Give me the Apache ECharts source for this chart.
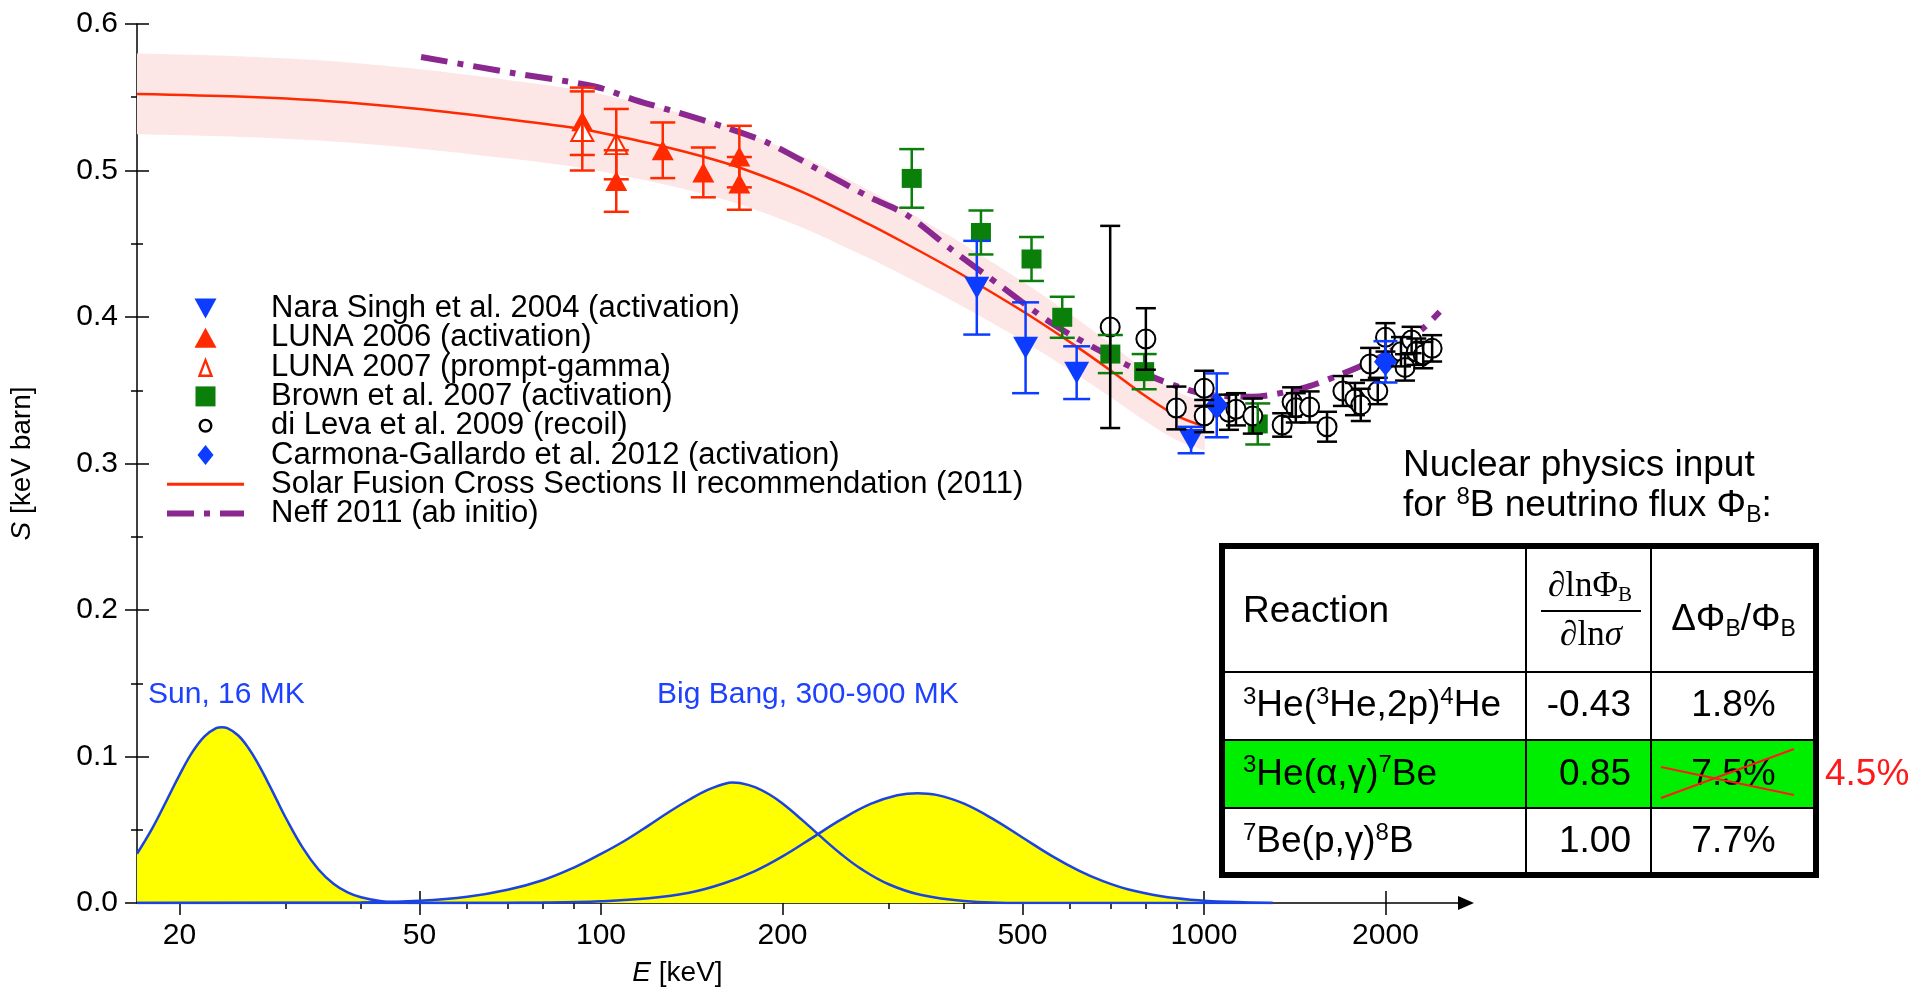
<!DOCTYPE html>
<html>
<head>
<meta charset="utf-8">
<title>3He(α,γ)7Be astrophysical S-factor</title>
<script src="https://cdn.jsdelivr.net/npm/echarts@6/dist/echarts.min.js"></script>
<style>
  html, body { margin: 0; padding: 0; background: #ffffff; }
  #chart { width: 1915px; height: 992px; }
</style>
</head>
<body>
<div id="chart"></div>
<script>
const SANS = '"Liberation Sans", Arial, Helvetica, sans-serif';
const SERIF = '"Liberation Serif", "Times New Roman", serif';

// ---- axes ----
const E_MIN = 17;
const E_MAX = 2720;
const xMajorTicks = [20, 50, 100, 200, 500, 1000, 2000];
const xMinorTicks = [30, 40, 60, 70, 80, 90, 300, 400, 600, 700, 800, 900];
const S_MIN = 0, S_MAX = 0.6, S_STEP = 0.1;

// ---- measurements: energy (keV), S (keV barn), 1-sigma error ----
// Nara Singh et al. 2004 (activation)
const naraE   = [420, 506, 615, 952];
const naraS   = [0.420, 0.379, 0.362, 0.316];
const naraErr = [0.032, 0.031, 0.018, 0.009];

// LUNA 2006 (activation)
const luna06E   = [93.1, 106, 126.6, 147.8, 169.6, 169.6];
const luna06S   = [0.5336, 0.4928, 0.5138, 0.4987, 0.5095, 0.4912];
const luna06Err = [0.023, 0.021, 0.019, 0.017, 0.021, 0.018];

// LUNA 2007 (prompt-gamma)
const luna07E   = [93.1, 106];
const luna07S   = [0.527, 0.518];
const luna07Err = [0.027, 0.024];

// Brown et al. 2007 (activation)
const brownE   = [327.6, 426.7, 517.6, 582, 699.4, 795.8, 1228];
const brownS   = [0.4946, 0.4577, 0.4396, 0.3998, 0.3747, 0.3627, 0.327];
const brownErr = [0.020, 0.015, 0.015, 0.014, 0.013, 0.012, 0.014];

// di Leva et al. 2009 (recoil)
const dilevaE   = [699, 801, 900, 1001, 1001, 1100, 1130, 1205, 1348, 1400, 1420, 1497, 1600, 1700, 1780, 1820, 1886, 1942, 2000, 2122, 2155, 2210, 2250, 2310, 2390];
const dilevaS   = [0.3932, 0.385, 0.3379, 0.3513, 0.3324, 0.335, 0.337, 0.3324, 0.3263, 0.342, 0.338, 0.3386, 0.3251, 0.3495, 0.344, 0.340, 0.3679, 0.3495, 0.3861, 0.3763, 0.3656, 0.3843, 0.3763, 0.374, 0.3786];
const dilevaErr = [0.069, 0.021, 0.0146, 0.012, 0.011, 0.012, 0.011, 0.012, 0.008, 0.010, 0.010, 0.0106, 0.0102, 0.0102, 0.011, 0.011, 0.011, 0.009, 0.0097, 0.010, 0.009, 0.009, 0.009, 0.009, 0.009];

// Carmona-Gallardo et al. 2012 (activation)
const carmonaE   = [1050, 2000];
const carmonaS   = [0.3397, 0.3694];
const carmonaErr = [0.0218, 0.0141];

// ---- curves ----
// Solar Fusion Cross Sections II recommendation, with its ±5 % band edges
const sfE      = [17, 25, 35, 50, 70, 93, 106, 127, 148, 170, 216, 278, 315, 381, 420, 506, 615, 699, 801, 900, 1003];
const sfS      = [0.5523, 0.5505, 0.5475, 0.5420, 0.5350, 0.5283, 0.5235, 0.5164, 0.5094, 0.5019, 0.4853, 0.4634, 0.4517, 0.4331, 0.4229, 0.4027, 0.3798, 0.3637, 0.3459, 0.3327, 0.3252];
const sfBandLo = [0.5247, 0.5230, 0.5201, 0.5149, 0.5083, 0.5019, 0.4973, 0.4906, 0.4839, 0.4768, 0.4610, 0.4402, 0.4291, 0.4114, 0.4018, 0.3826, 0.3608, 0.3455, 0.3286, 0.3161, 0.3089];
const sfBandHi = [0.5799, 0.5780, 0.5749, 0.5691, 0.5618, 0.5547, 0.5497, 0.5422, 0.5349, 0.5270, 0.5096, 0.4866, 0.4743, 0.4548, 0.4440, 0.4228, 0.3988, 0.3819, 0.3632, 0.3493, 0.3415];

// Neff 2011 (ab initio)
const neffE = [50.3, 71, 98, 114, 133, 161, 190, 230, 278, 322, 381, 462, 559, 676, 819, 991, 1199, 1452, 1690, 1987, 2291, 2460];
const neffS = [0.5775, 0.5667, 0.5572, 0.5481, 0.5400, 0.5294, 0.5185, 0.5003, 0.4821, 0.4695, 0.4462, 0.4207, 0.3957, 0.3763, 0.3593, 0.3479, 0.3456, 0.3513, 0.3610, 0.3740, 0.3911, 0.4036];

// Gamow windows (arbitrary scale): Sun and Big Bang
const sunE = [17, 18, 19, 20, 21, 22, 23, 23.5, 24, 25, 26, 27, 28, 29, 30, 32, 34, 36, 38, 40, 43, 46, 50, 80];
const sunY = [0.0336, 0.0506, 0.0693, 0.0875, 0.103, 0.1138, 0.1193, 0.120, 0.1194, 0.1145, 0.106, 0.095, 0.0827, 0.0702, 0.0582, 0.0378, 0.0229, 0.0132, 0.0073, 0.0039, 0.0014, 0.0005, 0, 0];
const bbLowE = [17, 40, 50, 60, 70, 80, 90, 100, 110, 120, 130, 140, 150, 160, 165, 170, 180, 190, 200, 215, 230, 250, 270, 300, 340, 400, 500, 1300];
const bbLowY = [0, 0.0003, 0.0015, 0.0042, 0.009, 0.0155, 0.024, 0.0335, 0.043, 0.053, 0.0625, 0.0705, 0.077, 0.0812, 0.0823, 0.0819, 0.0791, 0.0742, 0.0679, 0.0571, 0.0463, 0.0335, 0.0233, 0.0128, 0.0054, 0.0014, 0, 0];
const bbHighE = [17, 60, 80, 100, 120, 140, 160, 180, 200, 225, 250, 280, 310, 335, 360, 400, 450, 500, 560, 620, 680, 750, 850, 950, 1100, 1300];
const bbHighY = [0, 0, 0.0003, 0.0012, 0.0032, 0.0070, 0.0135, 0.0218, 0.0318, 0.045, 0.0569, 0.0676, 0.0735, 0.075, 0.0738, 0.0678, 0.0566, 0.0447, 0.032, 0.0221, 0.0149, 0.0092, 0.0046, 0.0023, 0.0008, 0];

// ---- inset table ----
const tableReactions = ['{s|3}He({s|3}He,2p){s|4}He', '{s|3}He(α,γ){s|7}Be', '{s|7}Be(p,γ){s|8}B'];
const tableSensitivity = ['-0.43', '0.85', '1.00'];
const tableFluxError = ['1.8%', '7.5%', '7.7%'];
const revisedFluxError = '4.5%';

// ---- colours ----
const RED = '#ff2a00';
const BLUE = '#0c3cff';
const GREEN = '#0a7f0a';
const PURPLE = '#8b2890';

const pairs = (xs, ys) => xs.map((x, i) => [x, ys[i]]);
const triples = (xs, ys, es) => xs.map((x, i) => [x, ys[i], es[i]]);

function scatterSeries(name, xs, ys, symbol, size, color, itemStyle) {
  return {
    name, type: 'scatter', data: pairs(xs, ys), symbol, symbolSize: size,
    itemStyle: Object.assign({ color, opacity: 1 }, itemStyle || {}),
    z: 4
  };
}

function errorBarSeries(name, xs, ys, es, color, capWidth) {
  return {
    name: name + ' – errors',
    type: 'custom',
    data: triples(xs, ys, es),
    encode: { x: 0, y: 1 },
    z: 5,
    renderItem(params, api) {
      const x = api.value(0), y = api.value(1), e = api.value(2);
      const hi = api.coord([x, y + e]);
      const lo = api.coord([x, y - e]);
      const h = capWidth / 2;
      const style = { stroke: color, lineWidth: 2.5 };
      return {
        type: 'group',
        children: [
          { type: 'line', shape: { x1: hi[0], y1: hi[1], x2: lo[0], y2: lo[1] }, style },
          { type: 'line', shape: { x1: hi[0] - h, y1: hi[1], x2: hi[0] + h, y2: hi[1] }, style },
          { type: 'line', shape: { x1: lo[0] - h, y1: lo[1], x2: lo[0] + h, y2: lo[1] }, style }
        ]
      };
    }
  };
}

function gamowSeries(name, xs, ys) {
  return {
    name, type: 'line', data: pairs(xs, ys), smooth: 0.4, symbol: 'none', z: 2,
    lineStyle: { color: '#1b43e0', width: 2.5 },
    areaStyle: { color: '#ffff00', opacity: 1 }
  };
}

const N_NARA = 'Nara Singh et al. 2004 (activation)';
const N_L06 = 'LUNA 2006 (activation)';
const N_L07 = 'LUNA 2007 (prompt-gamma)';
const N_BROWN = 'Brown et al. 2007 (activation)';
const N_DILEVA = 'di Leva et al. 2009 (recoil)';
const N_CARMONA = 'Carmona-Gallardo et al. 2012 (activation)';
const N_SF = 'Solar Fusion Cross Sections II recommendation (2011)';
const N_NEFF = 'Neff 2011 (ab initio)';

const tickLine = { color: '#000', width: 1.5 };
const baseX = {
  type: 'log', logBase: 10, min: E_MIN, max: E_MAX, gridIndex: 0,
  position: 'bottom', offset: 0, splitLine: { show: false }, minorSplitLine: { show: false }
};
const baseY = {
  type: 'value', min: S_MIN, max: S_MAX, interval: S_STEP, gridIndex: 0,
  position: 'left', offset: 0, splitLine: { show: false }
};

// text helper for the inset table and annotations
function label(x, y, text, extra) {
  return {
    type: 'text', x, y, z: 100,
    style: Object.assign({
      text, fill: '#000', fontSize: 37, fontFamily: SANS, lineHeight: 42,
      textAlign: 'left', textVerticalAlign: 'middle',
      rich: {
        s: { fontSize: 24, lineHeight: 24, verticalAlign: 'top', fontFamily: SANS },
        b: { fontSize: 23, lineHeight: 23, verticalAlign: 'bottom', fontFamily: SANS }
      }
    }, extra || {})
  };
}
function hline(x1, x2, y, w, color) {
  return { type: 'line', z: 99, shape: { x1, y1: y, x2, y2: y }, style: { stroke: color || '#000', lineWidth: w } };
}
function vline(x, y1, y2, w) {
  return { type: 'line', z: 99, shape: { x1: x, y1, x2: x, y2 }, style: { stroke: '#000', lineWidth: w } };
}

const T = { left: 1222, right: 1816, top: 546, bottom: 875, c1: 1526, c2: 1651, r1: 672, r2: 740, r3: 808 };
const rowMid = [706, 774.5, 842];

const graphics = [
  // green highlight row
  { type: 'rect', z: 98, shape: { x: T.left, y: T.r2, width: T.right - T.left, height: T.r3 - T.r2 }, style: { fill: '#00ee00' } },
  hline(T.left, T.right, T.r1, 2), hline(T.left, T.right, T.r2, 2), hline(T.left, T.right, T.r3, 2),
  vline(T.c1, T.top, T.bottom, 2), vline(T.c2, T.top, T.bottom, 2),
  { type: 'rect', z: 99, shape: { x: T.left, y: T.top, width: T.right - T.left, height: T.bottom - T.top }, style: { fill: 'none', stroke: '#000', lineWidth: 6 } },
  // caption
  label(1403, 466, 'Nuclear physics input'),
  label(1403, 506, 'for {s|8}B neutrino flux Φ{b|B}:'),
  // header
  label(1243, 612, 'Reaction'),
  {
    type: 'text', x: 1590, y: 587, z: 100,
    style: {
      text: '{d|∂}ln{f|Φ}{b|B}', fill: '#000', fontSize: 35, fontFamily: SERIF, lineHeight: 38,
      textAlign: 'center', textVerticalAlign: 'middle',
      rich: {
        d: { fontSize: 35, fontFamily: SERIF, fontStyle: 'italic', lineHeight: 38 },
        f: { fontSize: 35, fontFamily: SERIF, lineHeight: 38 },
        b: { fontSize: 21, fontFamily: SERIF, lineHeight: 21, verticalAlign: 'bottom' }
      }
    }
  },
  hline(1541, 1641, 611, 2),
  {
    type: 'text', x: 1591, y: 636, z: 100,
    style: {
      text: '{d|∂}ln{d|σ}', fill: '#000', fontSize: 35, fontFamily: SERIF, lineHeight: 38,
      textAlign: 'center', textVerticalAlign: 'middle',
      rich: { d: { fontSize: 35, fontFamily: SERIF, fontStyle: 'italic', lineHeight: 38 } }
    }
  },
  label(1733.5, 620, 'ΔΦ{b|B}/Φ{b|B}', { textAlign: 'center' }),
  // red strike-through of the old uncertainty
  { type: 'line', z: 101, shape: { x1: 1661, y1: 798, x2: 1794, y2: 749 }, style: { stroke: '#ff1a1a', lineWidth: 2 } },
  { type: 'line', z: 101, shape: { x1: 1661, y1: 767, x2: 1794, y2: 795 }, style: { stroke: '#ff1a1a', lineWidth: 2 } },
  label(1825, rowMid[1], revisedFluxError, { fill: '#ff1a1a' }),
  // Gamow window captions
  label(148, 695, 'Sun, 16 MK', { fill: '#1e40ff', fontSize: 30 }),
  label(657, 695, 'Big Bang, 300-900 MK', { fill: '#1e40ff', fontSize: 30 })
];
tableReactions.forEach((t, i) => {
  graphics.push(label(1243, rowMid[i], t));
  graphics.push(label(1631, rowMid[i], tableSensitivity[i], { textAlign: 'right' }));
  graphics.push(label(1733.5, rowMid[i], tableFluxError[i], { textAlign: 'center' }));
});

const legendIcon = (name, icon, color) => ({ name, icon, itemStyle: { color, borderWidth: 0 } });

// repeat the first and last point so that the smoothed outline keeps sharp corners
const withSharpEnds = pts => [pts[0]].concat(pts, [pts[pts.length - 1]]);

const option = {
  animation: false,
  backgroundColor: '#ffffff',
  grid: { left: 133, top: 24, width: 1333, height: 879, containLabel: false },
  legend: {
    show: true, orient: 'vertical', left: 167, top: 293, padding: 0, itemGap: -1.7,
    itemWidth: 77, itemHeight: 20, selectedMode: false, symbolKeepAspect: true,
    textStyle: { fontSize: 31, fontFamily: SANS, color: '#000', lineHeight: 29.3, padding: [0, 0, 0, 22] },
    data: [
      legendIcon(N_NARA, 'path://M0,0L22,0L11,20Z', BLUE),
      legendIcon(N_L06, 'path://M11,0L22,20L0,20Z', RED),
      legendIcon(N_L07, 'path://M7,0L14,18L0,18Z M7,5.5L3.2,15.6L10.8,15.6Z', RED),
      legendIcon(N_BROWN, 'path://M0,0L18,0L18,18L0,18Z', GREEN),
      legendIcon(N_DILEVA, 'path://M7,-3L7,-3Z M7,17L7,17Z M7,0A7,7,0,1,1,7,14A7,7,0,1,1,7,0Z M7,2.4A4.6,4.6,0,1,0,7,11.6A4.6,4.6,0,1,0,7,2.4Z', '#000'),
      legendIcon(N_CARMONA, 'path://M8,0L16,10L8,20L0,10Z', BLUE),
      legendIcon(N_SF, 'path://M0,0L77,0L77,3L0,3Z', RED),
      legendIcon(N_NEFF, 'path://M0,0L27,0L27,6L0,6Z M37,0L43,0L43,6L37,6Z M53,0L77,0L77,6L53,6Z', PURPLE)
    ]
  },
  xAxis: [
    Object.assign({}, baseX, {
      name: '{i|E} [keV]', nameLocation: 'middle', nameGap: 56,
      nameTextStyle: { fontSize: 28, fontFamily: SANS, color: '#000', padding: [0, 248, 0, 0],
        rich: { i: { fontSize: 28, fontFamily: SANS, fontStyle: 'italic', color: '#000' } } },
      axisLine: { show: true, onZero: false, lineStyle: tickLine, symbol: ['none', 'triangle'], symbolSize: [14, 16] },
      axisTick: { show: true, customValues: xMajorTicks, length: 12, lineStyle: tickLine },
      axisLabel: { show: true, customValues: xMajorTicks, fontSize: 30, fontFamily: SANS, color: '#000', margin: 18,
        formatter: v => String(Math.round(v)) }
    }),
    Object.assign({}, baseX, {
      axisLine: { show: false }, axisLabel: { show: false },
      axisTick: { show: true, inside: true, customValues: xMajorTicks, length: 12, lineStyle: tickLine }
    }),
    Object.assign({}, baseX, {
      axisLine: { show: false }, axisLabel: { show: false },
      axisTick: { show: true, customValues: xMinorTicks, length: 6, lineStyle: tickLine }
    }),
    Object.assign({}, baseX, {
      axisLine: { show: false }, axisLabel: { show: false },
      axisTick: { show: true, inside: true, customValues: xMinorTicks, length: 6, lineStyle: tickLine }
    })
  ],
  yAxis: [
    Object.assign({}, baseY, {
      name: '{i|S} [keV barn]', nameLocation: 'middle', nameGap: 101, nameRotate: 90,
      nameTextStyle: { fontSize: 28, fontFamily: SANS, color: '#000',
        rich: { i: { fontSize: 28, fontFamily: SANS, fontStyle: 'italic', color: '#000' } } },
      axisLine: { show: true, onZero: false, lineStyle: tickLine },
      axisTick: { show: true, length: 12, lineStyle: tickLine },
      minorTick: { show: true, splitNumber: 2, length: 6, lineStyle: tickLine },
      axisLabel: { show: true, fontSize: 30, fontFamily: SANS, color: '#000', margin: 19,
        formatter: v => v.toFixed(1) }
    }),
    Object.assign({}, baseY, {
      axisLine: { show: false }, axisLabel: { show: false },
      axisTick: { show: true, inside: true, length: 12, lineStyle: tickLine },
      minorTick: { show: true, splitNumber: 2, length: 6, lineStyle: tickLine }
    })
  ],
  series: [
    // ±5 % band of the recommended curve, drawn as one polygon through the axis scales
    {
      name: 'SF II band', type: 'custom', data: [[sfE[0], sfS[0]]], encode: { x: 0, y: 1 },
      z: 1, silent: true, clip: true,
      renderItem(params, api) {
        const upper = sfE.map((e, i) => api.coord([e, sfBandHi[i]]));
        const lower = sfE.map((e, i) => api.coord([e, sfBandLo[i]])).reverse();
        const pts = withSharpEnds(upper).concat(withSharpEnds(lower));
        const xs = pts.map(p => p[0]), ys = pts.map(p => p[1]);
        const box = [[Math.min(...xs), Math.min(...ys)], [Math.max(...xs), Math.max(...ys)]];
        return {
          type: 'polygon',
          shape: { points: pts, smooth: 0.3, smoothConstraint: box },
          style: { fill: '#fce6e6' }
        };
      }
    },
    gamowSeries('Sun, 16 MK', sunE, sunY),
    gamowSeries('Big Bang (low T)', bbLowE, bbLowY),
    gamowSeries('Big Bang (high T)', bbHighE, bbHighY),
    { name: N_SF, type: 'line', data: pairs(sfE, sfS), smooth: 0.3, symbol: 'none', z: 3,
      lineStyle: { color: RED, width: 2.5 }, itemStyle: { color: RED } },
    { name: N_NEFF, type: 'line', data: pairs(neffE, neffS), smooth: 0.3, symbol: 'none', z: 3,
      lineStyle: { color: PURPLE, width: 6, type: [27, 10, 6, 10], cap: 'butt' }, itemStyle: { color: PURPLE } },
    scatterSeries(N_NARA, naraE, naraS, 'path://M0,0L20,0L10,18Z', [25, 22], BLUE),
    errorBarSeries(N_NARA, naraE, naraS, naraErr, BLUE, 27),
    scatterSeries(N_L06, luna06E, luna06S, 'triangle', [22, 20], RED),
    errorBarSeries(N_L06, luna06E, luna06S, luna06Err, RED, 25),
    scatterSeries(N_L07, luna07E, luna07S, 'emptyTriangle', [22, 20], RED, { borderColor: RED, borderWidth: 2.5 }),
    errorBarSeries(N_L07, luna07E, luna07S, luna07Err, RED, 25),
    scatterSeries(N_BROWN, brownE, brownS, 'rect', [20, 19], GREEN),
    errorBarSeries(N_BROWN, brownE, brownS, brownErr, GREEN, 25),
    scatterSeries(N_DILEVA, dilevaE, dilevaS, 'emptyCircle', 19, '#000', { borderColor: '#000', borderWidth: 2.5 }),
    errorBarSeries(N_DILEVA, dilevaE, dilevaS, dilevaErr, '#000', 20),
    scatterSeries(N_CARMONA, carmonaE, carmonaS, 'diamond', [23, 28], BLUE),
    errorBarSeries(N_CARMONA, carmonaE, carmonaS, carmonaErr, BLUE, 24)
  ],
  graphic: { elements: graphics }
};

const chart = echarts.init(document.getElementById('chart'), null, { renderer: 'canvas' });
chart.setOption(option);
</script>
</body>
</html>
